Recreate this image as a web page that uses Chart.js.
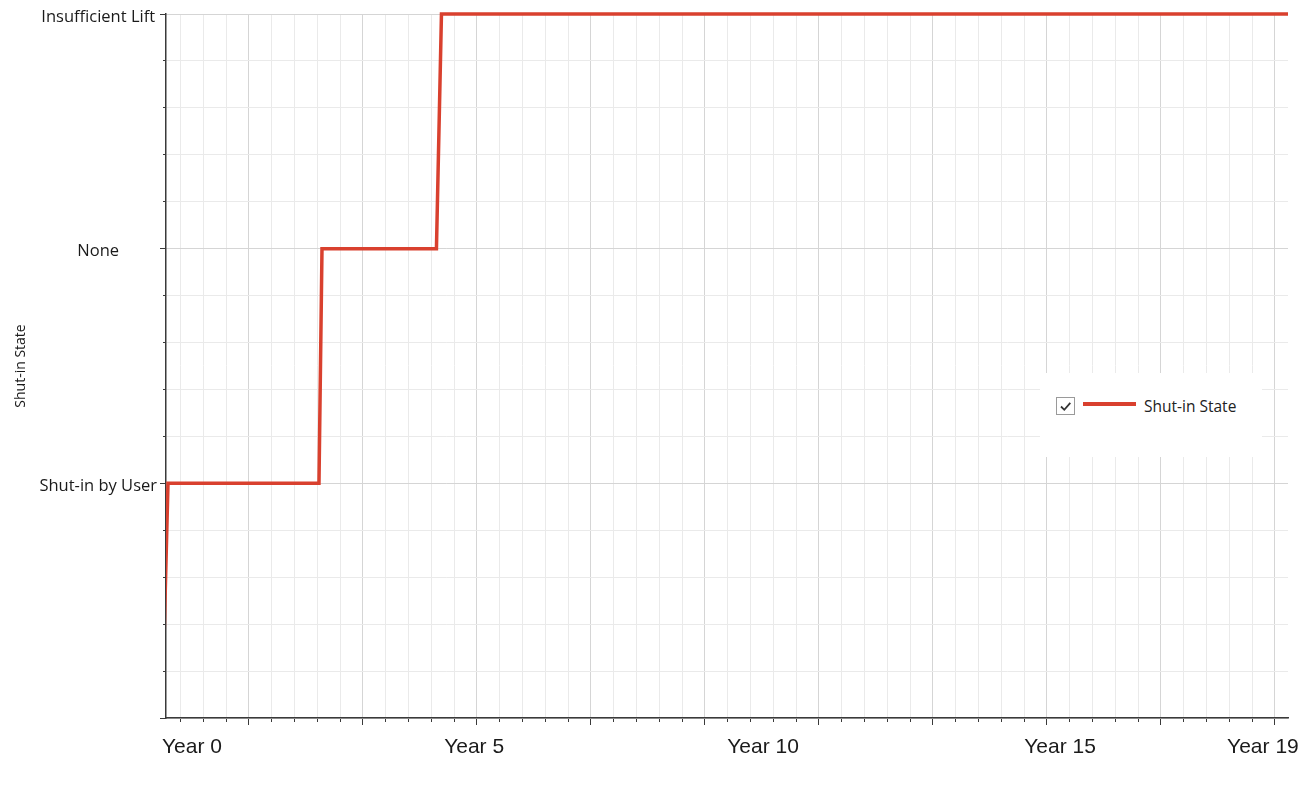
<!DOCTYPE html>
<html>
<head>
<meta charset="utf-8">
<title>Shut-in State</title>
<script src="https://cdn.jsdelivr.net/npm/chart.js@4/dist/chart.umd.min.js"></script>
<style>
  html, body { margin: 0; padding: 0; background: #ffffff; }
  #wrap { position: relative; width: 1315px; height: 796px; }
  #legendBox {
    position: absolute; left: 1040px; top: 373px; width: 222px; height: 84px;
    background: #ffffff; font-family: "Open Sans", sans-serif; font-size: 15.5px; color: #222;
  }
  #legendBox .chk { position: absolute; left: 16px; top: 24px; }
  #legendBox .swatch { position: absolute; left: 43px; top: 29px; width: 53px; height: 4px; background: #d9402e; }
  #legendBox .txt { position: absolute; left: 104px; top: 22px; white-space: nowrap; }
</style>
</head>
<body>
<div id="wrap">
  <canvas id="shutInChart" width="1315" height="796"></canvas>
  <div id="legendBox">
    <svg class="chk" width="20" height="19" viewBox="0 0 20 19">
      <rect x="0.5" y="0.5" width="18" height="17" fill="#fff" stroke="#9a9a9a" stroke-width="1"/>
      <path d="M5 9.5 L8.3 12.8 L14.3 5.8" fill="none" stroke="#333" stroke-width="1.8"/>
    </svg>
    <span class="swatch"></span>
    <span class="txt">Shut-in State</span>
  </div>
</div>
<script>
// State categories (index = value on the y axis)
const stateLabels = ['', 'Shut-in by User', 'None', 'Insufficient Lift'];

// Series: time in years vs state index
const timeYears = [-0.526, -0.421, 2.228, 2.281, 4.289, 4.377, 19.3];
const stateValues = [0, 1, 1, 2, 2, 3, 3];

// X tick labels and where they sit (years)
const yearTickValues = [0, 4.95, 10.02, 15.23, 18.79];
const yearTickLabels = ['Year 0', 'Year 5', 'Year 10', 'Year 15', 'Year 19'];

// Axis ranges
const xMin = -0.456;
const xMax = 19.23;
const yMin = 0;
const yMax = 3;

// Grid steps: minor every 0.4 yr, major every 2 yr (odd years)
const minorX = [];
for (let v = -0.2; v <= xMax + 1e-9; v += 0.4) minorX.push(Math.round(v * 1000) / 1000);
const majorX = [];
for (let v = 1; v <= xMax; v += 2) majorX.push(v);
const minorY = [];
for (let i = 0; i <= 15; i++) minorY.push(Math.round(i * 0.2 * 1000) / 1000);
const majorY = [0, 1, 2, 3];

const axisColor = '#3a3a3a';
const minorGrid = '#eaeaea';
const majorGrid = '#d5d5d5';

const ctx = document.getElementById('shutInChart').getContext('2d');
new Chart(ctx, {
  type: 'line',
  data: {
    datasets: [
      {
        label: 'Shut-in State',
        data: timeYears.map((t, i) => ({ x: t, y: stateValues[i] })),
        borderColor: '#d9402e',
        backgroundColor: '#d9402e',
        borderWidth: 3.5,
        pointRadius: 0,
        tension: 0,
        fill: false,
        // cut at the axes left/right, let the top step keep its full width
        clip: { left: 0, top: 5, right: 0, bottom: 0 },
      },
    ],
  },
  options: {
    responsive: false,
    animation: false,
    events: [],
    layout: { padding: { top: 14, right: 27, left: 0, bottom: 0 } },
    plugins: { legend: { display: false }, tooltip: { enabled: false } },
    scales: {
      // minor vertical grid + short ticks
      x: {
        type: 'linear', position: 'bottom', weight: 0, min: xMin, max: xMax,
        afterBuildTicks: s => { s.ticks = minorX.map(v => ({ value: v })); },
        ticks: { display: false },
        grid: { color: minorGrid, tickLength: 4, tickColor: axisColor },
        border: { color: axisColor, width: 1.5 },
        afterFit: s => { s.height = 0; },
      },
      // major vertical grid + longer ticks
      xMajor: {
        type: 'linear', position: 'bottom', weight: 1, min: xMin, max: xMax,
        afterBuildTicks: s => { s.ticks = majorX.map(v => ({ value: v })); },
        ticks: { display: false },
        grid: { color: majorGrid, tickLength: 7, tickColor: axisColor },
        border: { display: false },
        afterFit: s => { s.height = 0; },
      },
      // year labels
      xLabels: {
        type: 'linear', position: 'bottom', weight: 2, min: xMin, max: xMax,
        afterBuildTicks: s => { s.ticks = yearTickValues.map(v => ({ value: v })); },
        ticks: {
          autoSkip: false, maxRotation: 0, padding: 17, color: '#1a1a1a',
          font: { family: '"Liberation Sans", Arial, sans-serif', size: 21 },
          callback: (v, i) => yearTickLabels[i],
        },
        grid: { display: false, drawTicks: false },
        border: { display: false },
        // labels may hang past the plot edges; do not shrink the plot for them
        afterFit: s => { s.height = 78; s.paddingLeft = 0; s.paddingRight = 0; },
      },
      // minor horizontal grid + short ticks
      y: {
        type: 'linear', position: 'left', weight: 0, min: yMin, max: yMax,
        afterBuildTicks: s => { s.ticks = minorY.map(v => ({ value: v })); },
        ticks: { display: false },
        grid: { color: minorGrid, tickLength: 3, tickColor: axisColor },
        border: { color: axisColor, width: 1.5 },
        afterFit: s => { s.width = 0; },
      },
      // state labels, major grid, title
      yMajor: {
        type: 'linear', position: 'left', weight: 1, min: yMin, max: yMax,
        afterBuildTicks: s => { s.ticks = majorY.map(v => ({ value: v })); },
        ticks: {
          crossAlign: 'center', padding: 3, labelOffset: 3, color: '#1a1a1a',
          font: { family: '"Open Sans", sans-serif', size: 16.5 },
          callback: v => stateLabels[Math.round(v)],
        },
        grid: { color: majorGrid, tickLength: 6, tickColor: axisColor },
        border: { display: false },
        title: {
          display: true, text: 'Shut-in State', color: '#1a1a1a',
          font: { family: '"Open Sans", sans-serif', size: 14 },
          padding: { top: 13, bottom: 0 },
        },
        afterFit: s => { s.width = 166; },
      },
    },
  },
});
</script>
</body>
</html>
